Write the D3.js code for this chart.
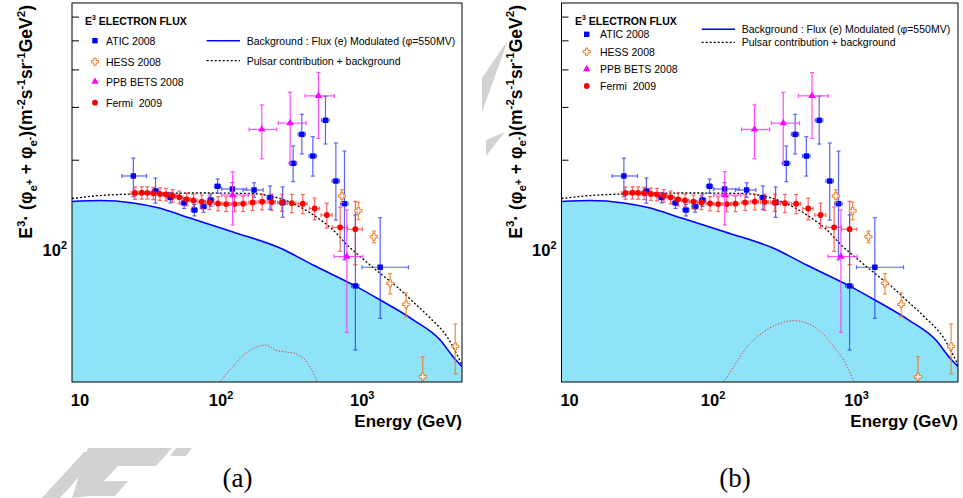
<!DOCTYPE html>
<html>
<head>
<meta charset="utf-8">
<title>E3 electron flux</title>
<script src="https://d3js.org/d3.v7.min.js"></script>
<style>
  body { margin: 0; background: #fff; }
  svg text { font-family: "Liberation Sans", Arial, Helvetica, sans-serif; }
</style>
</head>
<body>
<div id="chart"></div>
<script>
// values: energy in GeV, flux times E^3
var energyTicks = [10, 100, 1000];
var fluxTicks = [100, 200, 300, 400, 500, 600];

var aticE = [23.9, 34.3, 43.8, 54.7, 64.7, 75.1, 84.5, 94.5, 120.3, 171.4, 222.6, 273.1, 324.1, 373.5, 447.1, 549.4, 651, 749, 895, 1342];
var aticV = [176.5, 157.3, 149.6, 143.5, 135.9, 139.6, 146.8, 163.1, 159.7, 158.5, 149.6, 143.8, 194.5, 243, 205.7, 270.6, 169.8, 142.7, 75.9, 87.6];
var aticLo = [26, 14, 6, 6, 6, 6, 7, 8.5, 8, 8.6, 13, 15.3, 25.5, 34, 29.3, 45, 44, 50, 29.5, 28.4];
var aticHi = [26, 16.5, 6, 6, 6, 6, 7, 9.3, 8, 9, 13.9, 18.4, 27.7, 40.5, 32.9, 55, 57.5, 71, 55, 40.5];
var aticExLo = [4.1, 1.7, 2.2, 2.7, 3.2, 3.8, 4.2, 4.7, 19.3, 28.2, 11, 14, 19, 22, 27, 33, 39, 45, 54, 342];
var aticExHi = [5.8, 1.7, 2.2, 2.7, 3.2, 3.8, 4.2, 4.7, 31.7, 27.2, 11, 14, 19, 22, 27, 33, 39, 45, 54, 786];

var hessE = [718, 941, 1211, 1579, 2051, 2686, 4566];
var hessV = [151.4, 135.2, 110.7, 77.4, 65.9, 37.8, 47.7];
var hessErr = [7.5, 9, 5, 6, 6, 6.3, 9];

var ppbE = [120.7, 194.4, 308.6, 489.8, 778.8];
var ppbV = [152.5, 252.3, 264.9, 326.5, 95.1];
var ppbLo = [31.3, 50.9, 70.3, 91, 42];
var ppbHi = [29.9, 52.2, 70.7, 64, 40.8];
var ppbExLo = [19.7, 36.4, 53.6, 95.8, 145.8];
var ppbExHi = [35.3, 53.6, 92, 146.2, 233.2];

var fermiE = [24.5, 27.4, 30.0, 33.1, 36.9, 40.7, 45.4, 50.6, 57.1, 63.8, 73.0, 82.9, 95.2, 108.5, 124.6, 143.2, 167.3, 195.4, 228.8, 269.5, 317.2, 379.6, 460.4, 561.8, 698.2, 895];
var fermiV = [154.9, 155.2, 155.1, 154.5, 153.7, 153.1, 151.7, 149.9, 147.6, 146.2, 144.9, 144.0, 142.9, 142.3, 142.3, 142.7, 144.0, 144.9, 144.5, 144.0, 143.2, 142.6, 137.5, 130.8, 119.0, 117.3];
var fermiErr = [7.3, 7.3, 7.3, 7.3, 7.3, 7.3, 7.3, 7.3, 7.3, 7.3, 7.5, 7.6, 7.8, 8, 8.2, 8.4, 8.6, 8.8, 9, 9.5, 10, 10.5, 11.5, 12.5, 20, 28];
var fermiEx = [1.5, 1.6, 1.8, 2.0, 2.2, 2.4, 2.7, 3.0, 3.4, 3.8, 4.4, 5.0, 5.7, 6.5, 7.5, 8.6, 10, 12, 14, 18, 22, 28, 38, 50, 85, 110];

// background (modulated electron flux)
var bgE = [8.78, 10, 13.9, 23.8, 35.2, 60.3, 121.6, 262, 449, 892, 1342, 2300, 3574, 4420, 5100];
var bgV = [145.1, 145.6, 146.2, 143.5, 138.6, 127.8, 114.8, 101.5, 89.1, 75.9, 68.1, 58.5, 50.1, 44.0, 40.9];
// pulsar contribution + background
var sumE = [8.78, 13.9, 23.8, 71.0, 160.6, 222.6, 275.3, 363.3, 479.7, 622.8, 782.8, 1016, 1342, 1771, 2300, 3036, 4008, 5100];
var sumV = [148.5, 151.9, 153.7, 154.9, 154.3, 151.4, 147.3, 139.1, 128.3, 116.6, 103.9, 93.3, 83.5, 75.3, 67.1, 59.3, 51.3, 41.4];
// pulsar alone, panel (a) and panel (b)
var pulsarAE = [98.4, 109.8, 122.3, 136.4, 152.2, 169.5, 189.1, 205.1, 222.6, 241.5, 276.6, 325.7, 363.3, 405.3, 439.9, 464.3, 482];
var pulsarAV = [36.3, 38.8, 41.0, 43.6, 45.5, 47.0, 47.9, 48.2, 47.6, 46.4, 45.8, 45.3, 44.3, 42.4, 39.8, 37.8, 36.3];
var pulsarBE = [118.9, 139.6, 173.1, 225.9, 295.4, 365.8, 453.3, 561.3, 694.8, 861.3, 957.7];
var pulsarBV = [36.3, 40.9, 47.6, 53.4, 57.0, 58.1, 57.0, 53.4, 47.6, 40.9, 36.3];

var xDomain = [8.78, 5100];
var yDomain = [36.3, 666];

var svg = d3.select("#chart").append("svg")
    .attr("width", 963)
    .attr("height", 498);

// faint grey watermark pieces showing around the figures
var wm = svg.append("g").attr("fill", "#d2d2d2");
[
  [[42, 498], [60, 498], [101, 452], [84, 452]],
  [[88, 448], [172, 448], [156, 466], [118, 466], [104, 481], [128, 481], [115, 496], [90, 496], [72, 498]],
  [[176, 448], [192, 448], [186, 456], [170, 456]],
  [[508, 40], [482, 112], [482, 78]],
  [[505, 132], [486, 140], [486, 156]]
].forEach(function(pts) {
  wm.append("polygon").attr("points", pts.map(function(q) { return q.join(","); }).join(" "));
});

var frameTop = 3, frameBottom = 382;

// text with super/subscripts
function rich(t, parts, fs) {
  var cur = 0;
  parts.forEach(function(p) {
    var target = 0, size = null;
    if (p[1] === "sup") { target = -0.42 * fs; size = 0.66 * fs; }
    if (p[1] === "sub") { target = 0.28 * fs; size = 0.66 * fs; }
    if (p[1] === "subsup") { target = 0.05 * fs; size = 0.6 * fs; }
    var ts = t.append("tspan").attr("dy", target - cur).text(p[0]);
    if (size) ts.style("font-size", size + "px");
    cur = target;
  });
}

function zipPts(E, V, lo, hi, exl, exh) {
  return E.map(function(e, i) {
    return {e: e, v: V[i], lo: lo[i], hi: hi[i], exl: exl ? exl[i] : 0, exh: exh ? exh[i] : 0};
  });
}

function drawPanel(p) {
  var x = d3.scaleLog().domain(xDomain).range([p.left, p.right]);
  var y = d3.scaleLog().domain(yDomain).range([frameBottom, frameTop]);

  var g = svg.append("g");
  g.append("rect").attr("x", p.left).attr("y", frameTop)
    .attr("width", p.right - p.left).attr("height", frameBottom - frameTop).attr("fill", "#fff");
  var clip = "clip-" + p.id;
  g.append("clipPath").attr("id", clip).append("rect")
    .attr("x", p.left).attr("y", frameTop)
    .attr("width", p.right - p.left).attr("height", frameBottom - frameTop);

  // y ticks pointing inwards
  var ax = g.append("g")
    .attr("transform", "translate(" + p.left + ",0)")
    .call(d3.axisRight(y).tickValues(fluxTicks).tickSize(7).tickFormat(""));
  ax.select(".domain").remove();
  ax.selectAll("line").attr("stroke", "#000");

  // background fill + curves
  var bg = bgE.map(function(e, i) { return [e, bgV[i]]; });
  var area = d3.area()
    .x(function(d) { return x(d[0]); })
    .y0(frameBottom)
    .y1(function(d) { return y(d[1]); })
    .curve(d3.curveMonotoneX);
  var line = d3.line()
    .x(function(d) { return x(d[0]); })
    .y(function(d) { return y(d[1]); })
    .curve(d3.curveMonotoneX);

  var cg = g.append("g").attr("clip-path", "url(#" + clip + ")");
  cg.append("path").datum(bg).attr("d", area).attr("fill", "#8fe3f9");
  cg.append("path").datum(bg).attr("d", line)
    .attr("fill", "none").attr("stroke", "#0000ff").attr("stroke-width", 1.6);
  cg.append("path").datum(sumE.map(function(e, i) { return [e, sumV[i]]; }))
    .attr("d", line).attr("fill", "none").attr("stroke", "#000")
    .attr("stroke-width", 1.3).attr("stroke-dasharray", "2,2");
  cg.append("path").datum(p.pulsarE.map(function(e, i) { return [e, p.pulsarV[i]]; }))
    .attr("d", line).attr("fill", "none").attr("stroke", "#e03030")
    .attr("stroke-width", 1).attr("stroke-dasharray", "1.2,1.8");

  function bars(pts, color, op) {
    var eg = cg.append("g").attr("stroke", color).attr("stroke-width", 1.2).attr("opacity", op);
    pts.forEach(function(d) {
      var cx = x(d.e), cy = y(d.v);
      var yt = y(d.v + d.hi), yb = d.v - d.lo > yDomain[0] ? y(d.v - d.lo) : frameBottom + 5;
      eg.append("line").attr("x1", cx).attr("x2", cx).attr("y1", yt).attr("y2", yb);
      eg.append("line").attr("x1", cx - 2).attr("x2", cx + 2).attr("y1", yt).attr("y2", yt);
      eg.append("line").attr("x1", cx - 2).attr("x2", cx + 2).attr("y1", yb).attr("y2", yb);
      if (d.exl || d.exh) {
        var xl = x(d.e - d.exl), xr = x(d.e + d.exh);
        eg.append("line").attr("x1", xl).attr("x2", xr).attr("y1", cy).attr("y2", cy);
        eg.append("line").attr("x1", xl).attr("x2", xl).attr("y1", cy - 2).attr("y2", cy + 2);
        eg.append("line").attr("x1", xr).attr("x2", xr).attr("y1", cy - 2).attr("y2", cy + 2);
      }
    });
  }

  var atic = zipPts(aticE, aticV, aticLo, aticHi, aticExLo, aticExHi);
  var fermi = zipPts(fermiE, fermiV, fermiErr, fermiErr, fermiEx, fermiEx);
  var ppb = zipPts(ppbE, ppbV, ppbLo, ppbHi, ppbExLo, ppbExHi);
  var hess = zipPts(hessE, hessV, hessErr, hessErr, null, null);

  var tri = d3.symbol().type(d3.symbolTriangle).size(24);
  var cross = d3.symbol().type(d3.symbolCross).size(28);

  bars(atic, "#2030ff", 0.75);
  cg.selectAll(".atic").data(atic).enter().append("rect")
    .attr("x", function(d) { return x(d.e) - 2.7; })
    .attr("y", function(d) { return y(d.v) - 2.7; })
    .attr("width", 5.4).attr("height", 5.4)
    .attr("fill", "#0000ff");

  bars(fermi, "#ff2020", 0.7);
  cg.selectAll(".fermi").data(fermi).enter().append("circle")
    .attr("cx", function(d) { return x(d.e); })
    .attr("cy", function(d) { return y(d.v); })
    .attr("r", 2.9).attr("fill", "#ff0000");

  bars(ppb, "#ff30ff", 0.85);
  cg.selectAll(".ppb").data(ppb).enter().append("path")
    .attr("d", tri)
    .attr("transform", function(d) { return "translate(" + x(d.e) + "," + y(d.v) + ")"; })
    .attr("fill", "#ff00ff");

  bars(hess, "#f07820", 0.85);
  cg.selectAll(".hess").data(hess).enter().append("path")
    .attr("d", cross)
    .attr("transform", function(d) { return "translate(" + x(d.e) + "," + y(d.v) + ")"; })
    .attr("fill", "#fff").attr("stroke", "#f07820").attr("stroke-width", 1);

  // frame
  g.append("rect")
    .attr("x", p.left).attr("y", frameTop)
    .attr("width", p.right - p.left).attr("height", frameBottom - frameTop)
    .attr("fill", "none").attr("stroke", "#000").attr("stroke-width", 1);

  // x tick labels
  energyTicks.forEach(function(v, i) {
    var t = g.append("text").attr("x", x(v)).attr("y", 406)
      .attr("text-anchor", "middle").style("font-size", "16.5px").style("font-weight", "bold");
    if (i === 0) t.text("10");
    else rich(t, [["10"], [String(i + 1), "sup"]], 16.5);
  });
  g.append("text").attr("x", p.right).attr("y", 427)
    .attr("text-anchor", "end").style("font-size", "17px").style("font-weight", "bold")
    .text("Energy (GeV)");

  // y tick label
  var yl = g.append("text").attr("x", p.left - 5).attr("y", y(100) + 6)
    .attr("text-anchor", "end").style("font-size", "16.5px").style("font-weight", "bold");
  rich(yl, [["10"], ["2", "sup"]], 16.5);

  // y title
  var yt = g.append("text")
    .attr("transform", "translate(" + (p.left - 40) + ",5) rotate(-90)")
    .attr("text-anchor", "end").style("font-size", "17.5px").style("font-weight", "bold");
  rich(yt, [["E"], ["3", "sup"], ["\u00b7 (\u03c6"], ["e", "sub"], ["+", "subsup"], [" + \u03c6"], ["e", "sub"], ["-", "subsup"],
            [")(m"], ["-2", "sup"], ["s"], ["-1", "sup"], ["sr"], ["-1", "sup"], ["GeV"], ["2", "sup"], [")"]], 17.5);

  // legend
  var L = p.legend;
  var tt = g.append("text").attr("x", L.titleX).attr("y", L.titleY + 4)
    .style("font-size", "10.5px").style("font-weight", "bold");
  rich(tt, [["E"], ["3", "sup"], [" ELECTRON FLUX"]], 10.5);

  var names = ["ATIC 2008", "HESS 2008", "PPB BETS 2008", "Fermi  2009"];
  names.forEach(function(n, i) {
    var ry = L.rows[i];
    if (i === 0) g.append("rect").attr("x", L.mkX - 2.7).attr("y", ry - 2.7).attr("width", 5.4).attr("height", 5.4).attr("fill", "#0000ff");
    if (i === 1) g.append("path").attr("d", cross).attr("transform", "translate(" + L.mkX + "," + ry + ")")
      .attr("fill", "#fff").attr("stroke", "#f07820").attr("stroke-width", 1);
    if (i === 2) g.append("path").attr("d", tri).attr("transform", "translate(" + L.mkX + "," + ry + ")").attr("fill", "#ff00ff");
    if (i === 3) g.append("circle").attr("cx", L.mkX).attr("cy", ry).attr("r", 2.9).attr("fill", "#ff0000");
    g.append("text").attr("x", L.txX).attr("y", ry + 4).style("font-size", "10.5px").style("white-space", "pre").text(n);
  });

  g.append("line").attr("x1", L.lnX0).attr("x2", L.lnX1).attr("y1", L.lnRows[0]).attr("y2", L.lnRows[0])
    .attr("stroke", "#0000ff").attr("stroke-width", 1.6);
  g.append("line").attr("x1", L.lnX0).attr("x2", L.lnX1).attr("y1", L.lnRows[1]).attr("y2", L.lnRows[1])
    .attr("stroke", "#000").attr("stroke-width", 1.3).attr("stroke-dasharray", "2,2");
  g.append("text").attr("x", L.lnTx).attr("y", L.lnRows[0] + 4).style("font-size", "10.5px")
    .text("Background : Flux (e) Modulated (\u03c6=550MV)");
  g.append("text").attr("x", L.lnTx).attr("y", L.lnRows[1] + 4).style("font-size", "10.5px")
    .text("Pulsar contribution + background");

  // caption
  svg.append("text").attr("x", p.capX).attr("y", 487).attr("text-anchor", "middle")
    .style("font-family", "'Liberation Serif', 'DejaVu Serif', serif").style("font-size", "27px")
    .text(p.caption);
}

drawPanel({
  id: "a", left: 72, right: 462, caption: "(a)", capX: 237.5,
  pulsarE: pulsarAE, pulsarV: pulsarAV,
  legend: {titleX: 85, titleY: 20.7, mkX: 95, txX: 106, rows: [40.7, 61.7, 81.7, 102.7],
           lnX0: 206.7, lnX1: 240, lnTx: 246.7, lnRows: [40.7, 60.7]}
});
drawPanel({
  id: "b", left: 561.5, right: 958, caption: "(b)", capX: 735,
  pulsarE: pulsarBE, pulsarV: pulsarBV,
  legend: {titleX: 575, titleY: 20.7, mkX: 586.7, txX: 600, rows: [34.3, 51.7, 69, 86],
           lnX0: 701.7, lnX1: 735, lnTx: 741.7, lnRows: [29.3, 42.3]}
});
</script>
</body>
</html>
